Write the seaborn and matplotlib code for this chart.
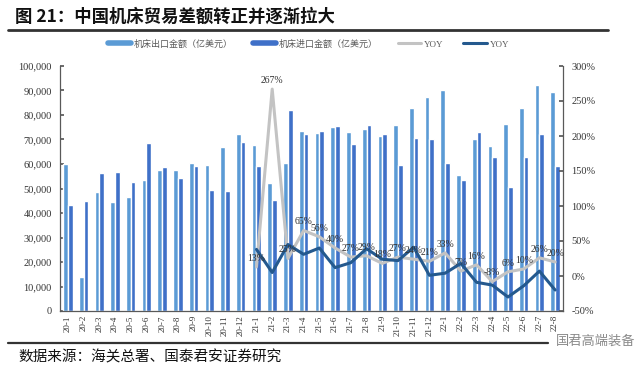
import numpy as np
import pandas as pd
import matplotlib
matplotlib.use("Agg")
import matplotlib.pyplot as plt
import seaborn as sns
from matplotlib.lines import Line2D
from matplotlib.ticker import FuncFormatter, FixedLocator

months = ["20-1", "20-2", "20-3", "20-4", "20-5", "20-6", "20-7", "20-8", "20-9", "20-10", "20-11", "20-12",
          "21-1", "21-2", "21-3", "21-4", "21-5", "21-6", "21-7", "21-8", "21-9", "21-10", "21-11", "21-12",
          "22-1", "22-2", "22-3", "22-4", "22-5", "22-6", "22-7", "22-8"]
export_vals = [60000, 14000, 48600, 44600, 46500, 53300, 57400, 57500, 60600, 59600, 67000, 72300,
               67800, 52100, 60400, 73400, 72600, 75200, 73100, 74200, 71500, 75800, 82900, 87300,
               90000, 55600, 70000, 67500, 76500, 82800, 92300, 89300]
import_vals = [43100, 45100, 56300, 56600, 52600, 68700, 58600, 54400, 59000, 49400, 48800, 68900,
               59000, 45400, 82000, 72300, 73600, 75400, 68300, 75800, 72400, 59700, 70600, 70400,
               60400, 53600, 73200, 62900, 50500, 62900, 72300, 59000]
yoy_months = months[12:]
yoy_grey = [13, 267, 25, 65, 56, 40, 27, 29, 18, 27, 24, 21, 33, 7, 16, -8, 6, 10, 26, 20]
yoy_dark = [38, 5, 45, 31, 40, 12, 19, 39, 24, 22, 41, 1, 4, 18, -9, -13, -30, -14, 7, -20]

name_exp = "机床出口金额（亿美元）"
name_imp = "机床进口金额（亿美元）"

sns.set_theme(style="white")
plt.rcParams["font.family"] = ["Noto Sans CJK SC", "DejaVu Sans"]

c_exp = "#5B9BD5"
c_imp = "#3F70C8"
c_grey = "#C3C3C3"
c_dark = "#24598E"
serif = ["Liberation Serif", "DejaVu Serif"]

bars = pd.DataFrame({
    "month": months * 2,
    "value": export_vals + import_vals,
    "kind": [name_exp] * len(months) + [name_imp] * len(months),
})
idx = {m: i for i, m in enumerate(months)}
lines = pd.DataFrame({
    "pos": [idx[m] for m in yoy_months] * 2,
    "yoy": yoy_grey + yoy_dark,
    "kind": ["grey"] * len(yoy_months) + ["dark"] * len(yoy_months),
})

fig = plt.figure(figsize=(6.4, 3.7), dpi=100)
ax = fig.add_axes([60 / 640, 59 / 370, 503 / 640, 245 / 370])
sns.barplot(data=bars, x="month", y="value", hue="kind", order=months,
            palette=[c_exp, c_imp], width=0.6, dodge=True, saturation=1,
            legend=False, ax=ax)
ax.set_xlim(-0.5, len(months) - 0.5)
ax.set_ylim(0, 100000)
ax.yaxis.set_major_locator(FixedLocator(np.arange(0, 100001, 10000)))
ax.yaxis.set_major_formatter(FuncFormatter(lambda v, p: f"{int(v):,}"))
ax.set_xlabel("")
ax.set_ylabel("")

ax2 = ax.twinx()
ax2.set_position(ax.get_position())
sns.lineplot(data=lines, x="pos", y="yoy", hue="kind", palette={"grey": c_grey, "dark": c_dark},
             hue_order=["grey", "dark"], linewidth=2.2, legend=False, ax=ax2)
ax2.set_ylim(-50, 300)
ax2.yaxis.set_major_locator(FixedLocator(np.arange(-50, 301, 50)))
ax2.yaxis.set_major_formatter(FuncFormatter(lambda v, p: f"{int(v)}%"))
ax2.set_xlim(-0.5, len(months) - 0.5)
ax2.set_xlabel("")
ax2.set_ylabel("")

for m, v in zip(yoy_months, yoy_grey):
    ax2.annotate(f"{v}%", (idx[m], v), xytext=(0, 3), textcoords="offset points",
                 ha="center", va="bottom", fontsize=7, family=serif, color="#333333")

ax.set_xticks(range(len(months)))
ax.set_xticklabels(months, rotation=90, fontsize=6.5, family=serif, color="#333333")
ax.set_xticks(np.arange(-0.5, len(months), 1), minor=True)
ax.tick_params(axis="x", which="major", length=0, pad=3)
ax.tick_params(axis="x", which="minor", length=3, color="#595959", direction="out")
ax.tick_params(axis="y", length=3, color="#595959", direction="in", labelsize=7.5, labelcolor="#333333", pad=6)
ax2.tick_params(axis="y", length=3, color="#595959", direction="in", labelsize=7.5, labelcolor="#333333", pad=6)
for lab in ax.get_yticklabels() + ax2.get_yticklabels():
    lab.set_family(serif)

for a in (ax, ax2):
    a.spines["top"].set_visible(False)
    for s in ("left", "right", "bottom"):
        a.spines[s].set_color("#595959")
        a.spines[s].set_linewidth(0.9)
ax.spines["right"].set_visible(False)
ax2.spines["left"].set_visible(False)
ax2.spines["bottom"].set_visible(False)

handles = [Line2D([0], [0], color=c_exp, lw=4), Line2D([0], [0], color=c_imp, lw=4),
           Line2D([0], [0], color=c_grey, lw=2.2), Line2D([0], [0], color=c_dark, lw=2.2)]
leg = fig.legend(handles, [name_exp, name_imp, "YOY", "YOY"], loc="center",
                 bbox_to_anchor=(0.482, 1 - 44 / 370), ncol=4, frameon=False, fontsize=6.5,
                 handlelength=2.6, handletextpad=0.3, columnspacing=2.2)
for t in leg.get_texts():
    t.set_color("#595959")
leg.get_texts()[2].set_family(serif)
leg.get_texts()[3].set_family(serif)

fig.text(15 / 640, 1 - 17 / 370, "图 21：中国机床贸易差额转正并逐渐拉大", fontsize=12.5,
         fontweight="bold", va="center", ha="left", color="#111111")
fig.add_artist(Line2D([8 / 640, 608 / 640], [1 - 30 / 370, 1 - 30 / 370], color="#333333", lw=2))
fig.add_artist(Line2D([8 / 640, 548 / 640], [1 - 343 / 370, 1 - 343 / 370], color="#333333", lw=1.6))
fig.text(18 / 640, 1 - 357 / 370, "数据来源：海关总署、国泰君安证券研究", fontsize=10.5,
         va="center", ha="left", color="#111111")
fig.text(556 / 640, 1 - 341 / 370, "国君高端装备", fontsize=9.5, va="center", ha="left", color="#8A8A8A")

fig.savefig("out.png", dpi=100)
